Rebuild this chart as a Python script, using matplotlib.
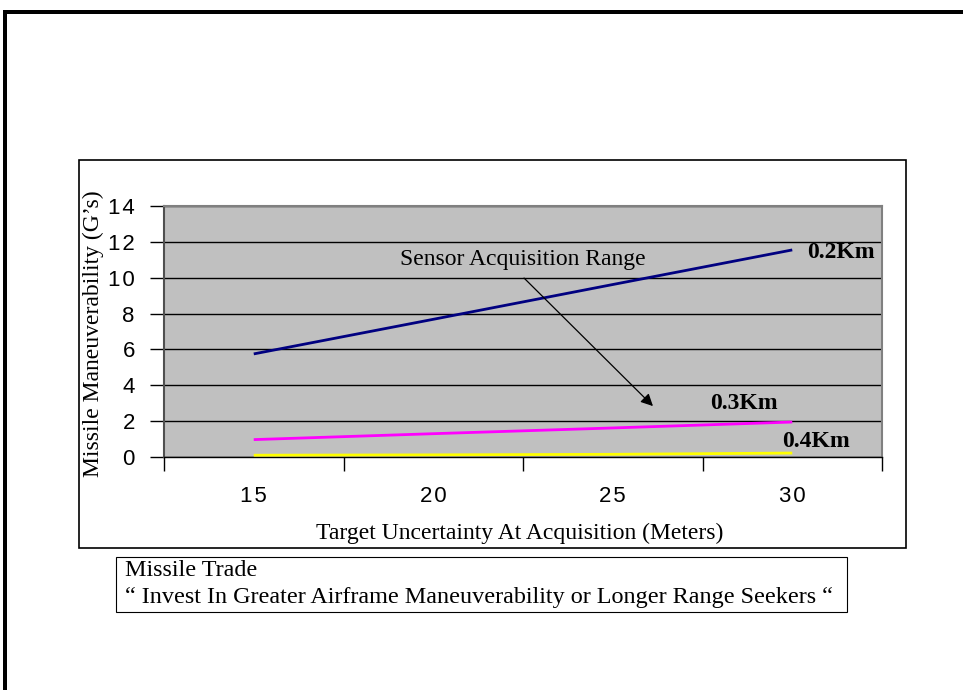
import matplotlib
matplotlib.use('Agg')
import matplotlib.pyplot as plt
from matplotlib.patches import Rectangle

# target uncertainty categories (meters)
categories = ['15', '20', '25', '30']
range_labels = ['0.2Km', '0.3Km', '0.4Km']
g_02km = [5.75, 7.68, 9.62, 11.55]
g_03km = [0.97, 1.30, 1.62, 1.95]
g_04km = [0.10, 0.12, 0.15, 0.22]
y_ticks = [0, 2, 4, 6, 8, 10, 12, 14]

series = [g_02km, g_03km, g_04km]
colors = ['#000080', '#FF00FF', '#FFFF00']

W, H = 963, 690
fig = plt.figure(figsize=(W / 100, H / 100), dpi=100)
fig.patch.set_facecolor('white')

serif = 'Liberation Serif'
sans = ['Liberation Sans', 'DejaVu Sans']


def fx(px):
    return px / W


def fy(py):
    return 1 - py / H


def spaced(s):
    # tick labels are drawn with a little extra letter spacing
    return '\u200a'.join(s)


# slide frame (top and left black bars)
fig.add_artist(Rectangle((fx(3), fy(14)), fx(960), 4 / H, transform=fig.transFigure,
                         facecolor='black', edgecolor='none'))
fig.add_artist(Rectangle((fx(3), 0), 4 / W, fy(10), transform=fig.transFigure,
                         facecolor='black', edgecolor='none'))

# chart border
fig.add_artist(Rectangle((fx(79), fy(548)), (906 - 79) / W, (548 - 160) / H,
                         transform=fig.transFigure, facecolor='none',
                         edgecolor='black', linewidth=1.2))

ax = fig.add_axes([fx(164), fy(457), (882 - 164) / W, (457 - 206) / H])
ax.set_facecolor('#C0C0C0')

x = list(range(len(categories)))
for vals, c in zip(series, colors):
    ax.plot(x, vals, color=c, linewidth=2.0, solid_capstyle='butt', zorder=3)

ax.set_xlim(-0.5, len(categories) - 0.5)
ax.set_ylim(0, 14)
ax.set_yticks(y_ticks)
ax.set_yticklabels([spaced(str(v)) for v in y_ticks], fontfamily=sans, fontsize=16)
ax.yaxis.grid(True, color='black', linewidth=1.0)
ax.set_axisbelow(True)

# category labels centered, tick marks between categories
ax.set_xticks(x)
ax.set_xticklabels([spaced(c) for c in categories], fontfamily=sans, fontsize=16)
ax.tick_params(axis='x', which='major', length=0, pad=21)
ax.set_xticks([i - 0.5 for i in range(len(categories) + 1)], minor=True)
ax.tick_params(axis='x', which='minor', length=10, width=1, color='black', direction='out')
ax.tick_params(axis='y', length=10, width=1, color='black', pad=11)

for side in ['top', 'right', 'left']:
    ax.spines[side].set_color('#808080')
    ax.spines[side].set_linewidth(1.5)
ax.spines['left'].set_color('#505050')
ax.spines['bottom'].set_color('black')
ax.spines['bottom'].set_linewidth(1.0)

ax.set_xlabel('Target Uncertainty At Acquisition (Meters)', fontfamily=serif,
              fontsize=17)
ax.set_ylabel('Missile Maneuverability (G\u2019s)', fontfamily=serif, fontsize=17)
ax.yaxis.set_label_coords(-0.0836, 0.49)
ax.xaxis.set_label_coords(0.495, -0.262)

# series labels
ax.text(3.27, 11.43, range_labels[0], fontfamily=serif, fontsize=17, fontweight='bold',
        ha='center', va='center')
ax.text(2.73, 2.96, range_labels[1], fontfamily=serif, fontsize=17, fontweight='bold',
        ha='center', va='center')
ax.text(3.13, 0.89, range_labels[2], fontfamily=serif, fontsize=17, fontweight='bold',
        ha='center', va='center')

# callout
ax.text(1.5, 10.99, 'Sensor Acquisition Range', fontfamily=serif, fontsize=17,
        ha='center', va='center')
ax.annotate('', xy=(2.224, 2.84), xytext=(1.506, 9.98),
            arrowprops=dict(arrowstyle='-|>', color='black', lw=0.9,
                            mutation_scale=18, shrinkA=0, shrinkB=0), zorder=4)

# caption box
fig.add_artist(Rectangle((fx(116), fy(612)), (847 - 116) / W, (612 - 557) / H,
                         transform=fig.transFigure, facecolor='white',
                         edgecolor='black', linewidth=0.8))
fig.text(fx(125), fy(571), 'Missile Trade', fontfamily=serif, fontsize=17.4,
         ha='left', va='center')
fig.text(fx(125), fy(597),
         '\u201c Invest In Greater Airframe Maneuverability or Longer Range Seekers \u201c',
         fontfamily=serif, fontsize=17.4, ha='left', va='center')

fig.savefig('out.png', dpi=100)
